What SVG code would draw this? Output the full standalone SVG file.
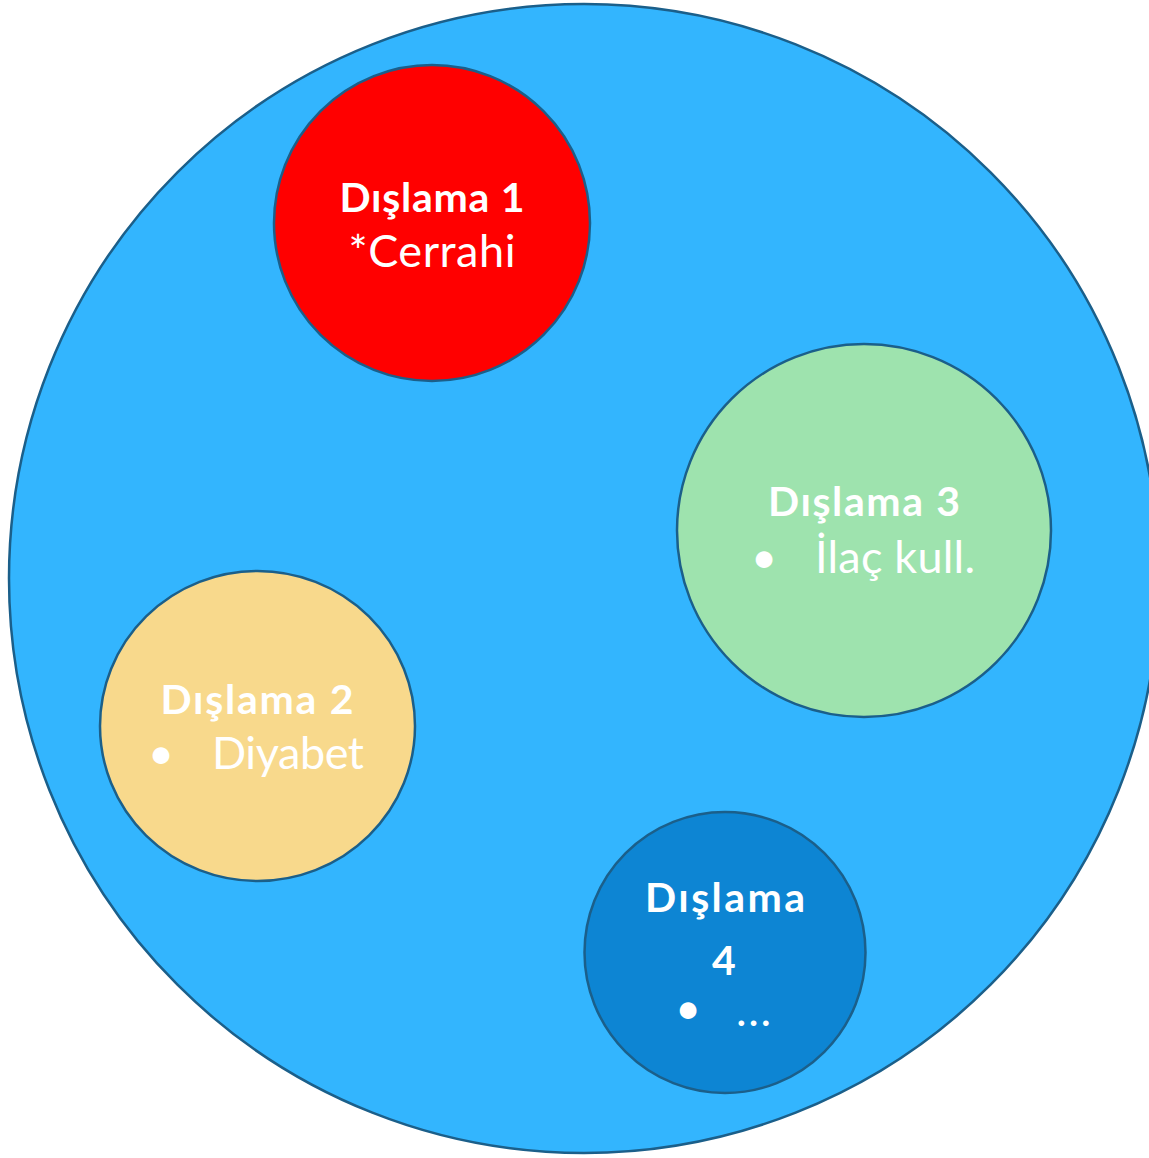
<svg xmlns="http://www.w3.org/2000/svg" width="1149" height="1158" viewBox="0 0 1149 1158">
<style>
.c{stroke:#1B5F8A;stroke-width:2.5}
.t{font-family:Lato,"Open Sans","Liberation Sans",sans-serif;fill:#FFFFFF;font-size:41px}
.r{font-size:45px}
.b{font-weight:bold}
.m{text-anchor:middle}
</style>
<rect width="1149" height="1158" fill="#FFFFFF"/>
<g id="outer"><ellipse class="c" cx="584" cy="578.5" rx="575" ry="574.5" fill="#33B5FE"/></g>
<g id="n1">
<circle class="c" cx="432" cy="223" r="158" fill="#FF0000"/>
<text class="t b m" x="432" y="212" textLength="185">Dışlama 1</text>
<text class="t r m" x="432" y="267" textLength="167">*Cerrahi</text>
</g>
<g id="n3">
<ellipse class="c" cx="864" cy="530.5" rx="187" ry="186.5" fill="#9EE3AE"/>
<text class="t b m" x="864" y="516" textLength="192">Dışlama 3</text>
<text class="t r" x="751" y="573">•</text>
<text class="t r" x="815" y="573" textLength="160">İlaç kull.</text>
</g>
<g id="n2">
<ellipse class="c" cx="257.5" cy="726" rx="157.5" ry="155" fill="#F8D98C"/>
<text class="t b m" x="257" y="714" textLength="193">Dışlama 2</text>
<text class="t r" x="148" y="769">•</text>
<text class="t r" x="212" y="769" textLength="152">Diyabet</text>
</g>
<g id="n4">
<circle class="c" cx="725" cy="952.5" r="140.5" fill="#0D85D3"/>
<text class="t b m" x="725" y="912" textLength="160">Dışlama</text>
<text class="t b m" x="724" y="975">4</text>
<text class="t r" x="675" y="1024">•</text>
<text class="t r" x="736" y="1026" textLength="35">...</text>
</g>
<g id="connectors"></g>
</svg>
